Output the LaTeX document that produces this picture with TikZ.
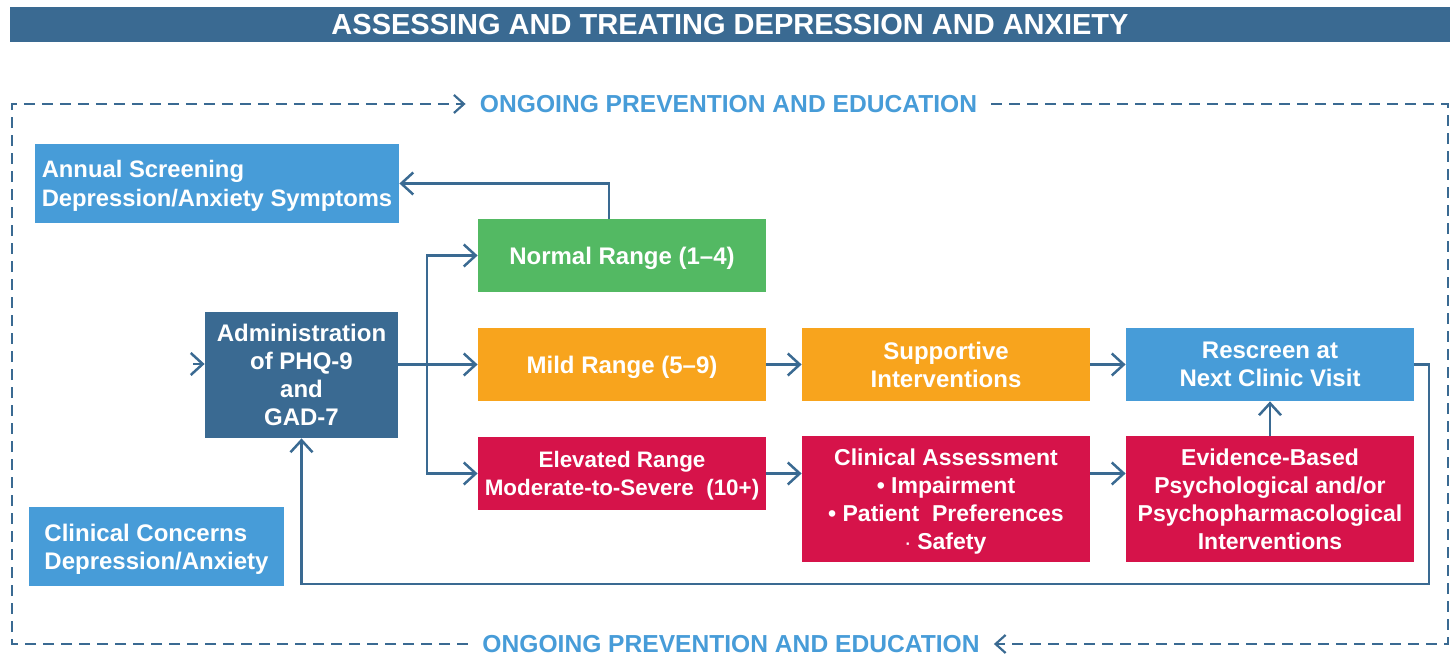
\documentclass[tikz,border=0pt]{standalone}
\usepackage{fontspec}
\setmainfont{Liberation Sans}
\usepackage{tikz}
\usetikzlibrary{arrows.meta}

\definecolor{steel}{HTML}{3A6A92}
\definecolor{sky}{HTML}{479CD8}
\definecolor{leaf}{HTML}{53B963}
\definecolor{amber}{HTML}{F8A41D}
\definecolor{crimson}{HTML}{D6134A}

\begin{document}
\begin{tikzpicture}[x=0.5pt, y=-0.5pt,
    box/.style={rectangle, fill=#1, text=white, inner sep=0pt, minimum width=144pt, text depth=0pt,
        minimum height=36.5pt, align=center, font=\fontsize{12}{14}\selectfont\bfseries},
    tall/.style={minimum height=63pt, font=\fontsize{11.5}{14}\selectfont\bfseries},
    link/.style={draw=steel, line width=1.25pt, -{Straight Barb[length=6pt,width=11pt]}},
    frame/.style={draw=steel, line width=1.1pt, dash pattern=on 5.5pt off 3.5pt,
        -{Straight Barb[length=5pt,width=9pt]}},
    note/.style={text=sky, inner xsep=7pt, inner ysep=0pt, font=\fontsize{12.3}{14}\selectfont\bfseries}
]
    \useasboundingbox (0,0) rectangle (1455,656);

    % Title bar
    \node[rectangle, fill=steel, text=white, minimum width=720pt, minimum height=17.5pt, inner sep=0pt,
        font=\fontsize{14.5}{16}\selectfont\bfseries] (title) at (730,24.5)
        {ASSESSING AND TREATING DEPRESSION AND ANXIETY};

    % Dashed prevention loop round the whole chart
    \node[note] (topnote) at (728.5,104) {ONGOING PREVENTION AND EDUCATION};
    \node[note] (bottomnote) at (731,644) {ONGOING PREVENTION AND EDUCATION};
    \coordinate (nw) at (12,104);
    \coordinate (ne) at (1448,104);
    \draw[frame] (bottomnote.west) -| (nw) -- (topnote.west); % left half
    \draw[frame] (topnote.east) -- (ne) |- (bottomnote.east); % right half

    % Entry boxes
    \node[box=sky, minimum width=182pt, minimum height=39.5pt, align=left,
        font=\fontsize{11.9}{14.5}\selectfont\bfseries] (annual) at (217,183.5)
        {Annual Screening\\Depression/Anxiety Symptoms};
    \node[box=sky, minimum width=127.5pt, minimum height=39.5pt, align=left] (concerns) at (156.5,546.5)
        {Clinical Concerns\\Depression/Anxiety};
    \node[box=steel, minimum width=96.5pt, minimum height=63pt] (admin) at (301.5,375)
        {Administration\\of PHQ-9\\and\\GAD-7};

    % Score ranges
    \node[box=leaf] (normal) at (622,255.5) {Normal Range (1--4)};
    \node[box=amber] (mild) at (622,364.5) {Mild Range (5--9)};
    \node[box=crimson, font=\fontsize{11.2}{14}\selectfont\bfseries] (elevated) at (622,473.5)
        {Elevated Range\\Moderate-to-Severe~ (10+)};

    % Follow-up steps
    \node[box=amber] (supportive) at (946,364.5) {Supportive\\Interventions};
    \node[box=sky] (rescreen) at (1270,364.5) {Rescreen at\\Next Clinic Visit};
    \node[box=crimson, tall] (clinical) at (946,499)
        {Clinical Assessment\\\textbullet\ Impairment\\\textbullet\ Patient~ Preferences\\{\footnotesize·}\ Safety};
    \node[box=crimson, tall] (evidence) at (1270,499)
        {Evidence-Based\\Psychological and/or\\Psychopharmacological\\Interventions};

    % Connectors
    \coordinate (feed) at (193,364);
    \coordinate (split) at (427,364);
    \coordinate (back) at (1429,584);
    \draw[link] (feed) -- (admin.west |- feed); % incoming to administration
    \draw[link] (admin.east |- mild.west) -- (mild.west);
    \draw[link] (split) |- (normal.west);
    \draw[link] (split) |- (elevated.west);
    \draw[link] ([xshift=-6.5pt]normal.north) |- (annual.east); % back to screening
    \draw[link] (mild) -- (supportive);
    \draw[link] (supportive) -- (rescreen);
    \draw[link] (elevated.east) -- (elevated.east -| clinical.west);
    \draw[link] (clinical.east |- elevated.east) -- (evidence.west |- elevated.east);
    \draw[link] (evidence) -- (rescreen);
    \draw[link] (rescreen.east) -| (back) -| (admin.south); % rescreen loops round to administration

\end{tikzpicture}
\end{document}
